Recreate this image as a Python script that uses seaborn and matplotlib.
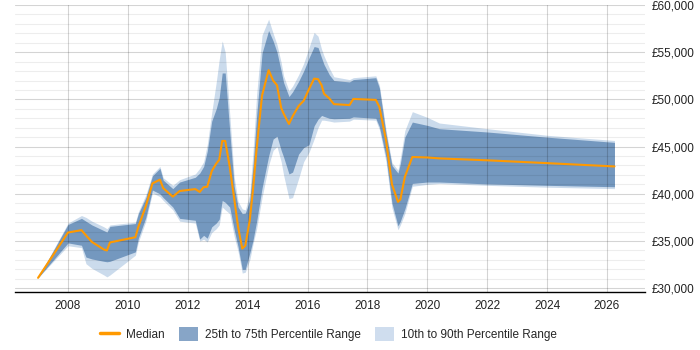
import pandas as pd
import matplotlib
matplotlib.use("Agg")
import matplotlib.pyplot as plt
from matplotlib.ticker import MultipleLocator, FuncFormatter
from matplotlib.patches import Patch
from matplotlib.lines import Line2D
import seaborn as sns

# years sampled along the chart
years = [2007.0, 2008.0, 2008.45, 2008.6, 2008.8, 2009.2, 2009.3, 2009.4, 2010.25, 2010.35,
         2010.6, 2010.82, 2011.07, 2011.18, 2011.5, 2011.73, 2012.25, 2012.4, 2012.53, 2012.65,
         2012.8, 2012.95, 2013.05, 2013.15, 2013.25, 2013.4, 2013.55, 2013.68, 2013.82, 2013.92,
         2014.07, 2014.18, 2014.3, 2014.48, 2014.7, 2014.85, 2014.98, 2015.12, 2015.2, 2015.38,
         2015.5, 2015.7, 2015.87, 2016.05, 2016.22, 2016.35, 2016.47, 2016.55, 2016.73, 2016.88,
         2017.4, 2017.53, 2018.28, 2018.4, 2018.62, 2018.82, 2019.02, 2019.1, 2019.25, 2019.5,
         2020.0, 2020.4, 2022.0, 2024.0, 2026.25]

median = [31100, 35900, 36150, 35600, 34900, 34100, 34000, 34850, 35400, 36500,
          38700, 41100, 41500, 40600, 39700, 40300, 40500, 40200, 40700, 40750,
          42400, 43200, 43600, 45600, 45600, 42900, 39500, 36500, 34200, 34500,
          37200, 40500, 44800, 50400, 53100, 52000, 51500, 49100, 48500, 47400,
          48200, 49300, 49850, 51100, 52200, 52150, 51500, 50600, 50100, 49500,
          49400, 50050, 49950, 49200, 45700, 41000, 39150, 39400, 41800, 43900,
          43850, 43750, 43550, 43250, 42900]

p75 = [31100, 36750, 37400, 37100, 36700, 36100, 35950, 36550, 36850, 37900,
       39600, 41900, 42700, 41450, 40550, 41250, 41750, 42200, 42900, 44500,
       47700, 49000, 50200, 52800, 52800, 46700, 40800, 38600, 37900, 37950,
       39300, 43000, 48300, 54900, 57300, 56200, 55000, 53000, 51800, 50300,
       50800, 51900, 53000, 54400, 55600, 55500, 54400, 53700, 52600, 52000,
       51850, 52100, 52300, 51200, 46400, 43000, 42200, 43200, 46000, 47600,
       47250, 46900, 46550, 46000, 45450]

p25 = [31100, 34800, 34550, 33300, 33100, 32850, 32800, 32850, 33850, 35300,
       37500, 40400, 40000, 39600, 38600, 37400, 37200, 35200, 35600, 35300,
       36500, 36900, 37300, 39300, 39100, 38600, 36200, 34400, 32000, 32000,
       33700, 35100, 37100, 40600, 44000, 45800, 46100, 44600, 43900, 42100,
       42300, 44200, 44900, 45200, 47200, 47900, 48300, 48200, 48000, 47950,
       48000, 48150, 48000, 47100, 43900, 39000, 36600, 37100, 38400, 41100,
       41250, 41250, 41050, 40900, 40750]

p90 = [31100, 36900, 37700, 37500, 37100, 36500, 36300, 36700, 37000, 38100,
       39900, 42100, 42900, 41700, 40900, 41500, 42100, 42700, 43400, 45200,
       48600, 51800, 54200, 56200, 55000, 48500, 41800, 39200, 38400, 38300,
       40000, 44500, 50500, 56800, 58500, 57000, 55800, 53900, 52500, 50900,
       51400, 52600, 53800, 55500, 57100, 56700, 55300, 54600, 53300, 52400,
       52100, 52300, 52500, 51500, 46800, 43300, 42500, 43800, 46700, 48700,
       48100, 47500, 46900, 46200, 45650]

p10 = [31100, 34500, 34300, 32600, 32100, 31400, 31200, 31400, 33500, 34900,
       37100, 40100, 39700, 39300, 38300, 37100, 36900, 35000, 35200, 34900,
       35900, 36300, 36700, 38600, 38300, 37900, 35500, 33900, 31600, 31700,
       33000, 34700, 36300, 39600, 43000, 44600, 45000, 43400, 42000, 39500,
       39600, 41600, 43400, 44400, 45800, 47000, 47800, 47800, 47700, 47600,
       47700, 47900, 47800, 46800, 43400, 38500, 36200, 36700, 37900, 40800,
       41000, 41100, 40900, 40700, 40550]

df = pd.DataFrame({"year": years, "median": median, "p25": p25, "p75": p75,
                   "p10": p10, "p90": p90})

sns.set_style("white")
plt.rcParams['font.family'] = ['Liberation Sans', 'DejaVu Sans']

dark = "#7498bf"
light = "#cbdbec"
orange = "#ff9900"

fig = plt.figure(figsize=(7, 3.5), dpi=100)
ax = fig.add_axes([15 / 700, 1 - 292 / 350, 630 / 700, 287 / 350])

ax.fill_between(df["year"], df["p10"], df["p90"], color=light, linewidth=0, zorder=1)
ax.fill_between(df["year"], df["p25"], df["p75"], color=dark, linewidth=0, zorder=1.5)
sns.lineplot(data=df, x="year", y="median", ax=ax, color=orange, linewidth=1.5, zorder=3)

ax.set_xlim(2006.23, 2027.27)
ax.set_ylim(29600, 60000)
ax.xaxis.set_major_locator(MultipleLocator(2))
ax.yaxis.set_major_locator(MultipleLocator(5000))
ax.yaxis.set_minor_locator(MultipleLocator(1000))
ax.yaxis.set_major_formatter(FuncFormatter(lambda v, p: "£{:,.0f}".format(v)))
ax.yaxis.tick_right()

ax.set_axisbelow(False)
ax.grid(True, which="major", axis="both", color="black", alpha=0.17, linewidth=0.8)
ax.grid(True, which="minor", axis="y", color="black", alpha=0.07, linewidth=0.8)

for s in ["top", "left", "right"]:
    ax.spines[s].set_visible(False)
ax.spines["bottom"].set_color("black")
ax.spines["bottom"].set_linewidth(1)

ax.tick_params(axis="both", which="both", length=0, labelsize=8.5, colors="#222222")
ax.tick_params(axis="x", pad=6)
ax.tick_params(axis="y", pad=5)
ax.set_xlabel("")
ax.set_ylabel("")

handles = [Line2D([0], [0], color=orange, linewidth=2.5),
           Patch(facecolor="#87a5c7", edgecolor="none"),
           Patch(facecolor="#cfddee", edgecolor="none")]
labels = ["Median", "25th to 75th Percentile Range", "10th to 90th Percentile Range"]
fig.legend(handles, labels, loc="center", bbox_to_anchor=(0.469, 0.045), ncol=3,
           frameon=False, fontsize=8.5, handlelength=1.6, handleheight=1.5,
           columnspacing=1.2, handletextpad=0.6)

fig.savefig("out.png", dpi=100)
